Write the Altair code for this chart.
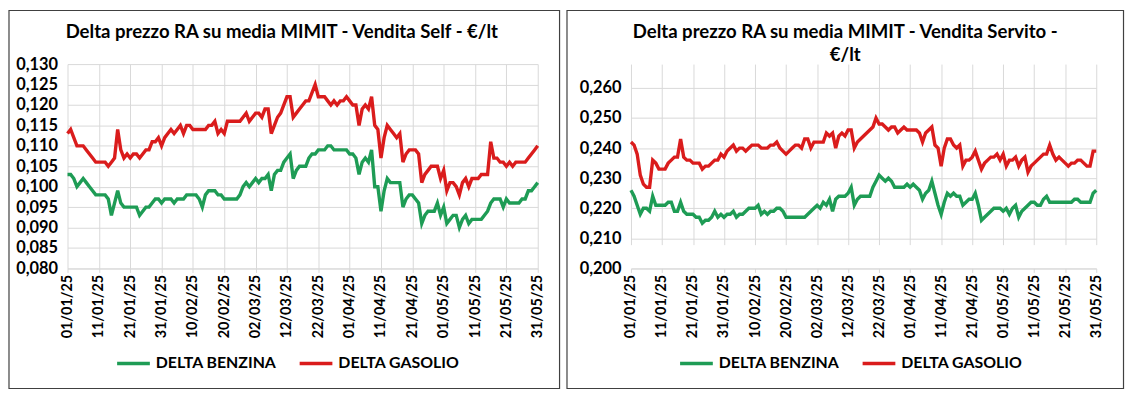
import altair as alt
import pandas as pd

TICK_LABELS = ["01/01/25", "11/01/25", "21/01/25", "31/01/25", "10/02/25", "20/02/25",
               "02/03/25", "12/03/25", "22/03/25", "01/04/25", "11/04/25", "21/04/25",
               "01/05/25", "11/05/25", "21/05/25", "31/05/25"]
TICK_DAYS = [0, 10, 20, 30, 40, 50, 60, 70, 80, 90, 100, 110, 120, 130, 140, 150]

SERIES = ["DELTA BENZINA", "DELTA GASOLIO"]
COLORS = ["#1e9c55", "#da1c1c"]

SELF_TITLE = ["Delta prezzo RA su media MIMIT - Vendita Self - €/lt"]
SERVITO_TITLE = ["Delta prezzo RA su media MIMIT - Vendita Servito -", "€/lt"]

SELF_TICKS = [0.080, 0.085, 0.090, 0.095, 0.100, 0.105, 0.110, 0.115, 0.120, 0.125, 0.130]
SERVITO_TICKS = [0.200, 0.210, 0.220, 0.230, 0.240, 0.250, 0.260]

SELF_BENZINA = [
    .103, .103, .102, .100, .101, .102, .101, .100, .099, .098,
    .098, .098, .098, .097, .093, .096, .099, .096, .095, .095,
    .095, .095, .095, .093, .094, .095, .095, .096, .097, .097,
    .096, .097, .097, .097, .096, .097, .097, .097, .098, .098,
    .098, .098, .097, .095, .098,
    .099, .099, .099, .098, .098, .097, .097, .097, .097, .097,
    .098, .100, .101, .100, .101, .102, .101, .102, .102, .103,
    .099, .103, .104, .104, .106, .107, .108, .102, .104, .105,
    .105, .105, .107, .108, .108, .109, .109, .109, .110, .110,
    .109, .109, .109, .109, .109, .108,
    .108, .107, .103, .106, .107, .106, .109, .100, .100, .094,
    .099, .102, .101, .101, .101, .101, .095, .097, .098, .098,
    .097, .096, .091, .093, .094, .094, .094, .096, .093, .095,
    .091, .092, .093, .093, .090, .092, .093, .091, .092, .092,
    .092, .092, .093, .094, .096, .097, .097, .097, .095, .097,
    .096, .096, .096, .096, .097, .097, .099, .099, .100, .101,
]
SELF_GASOLIO = [
    .113, .114, .112, .110, .110, .110, .109, .108, .107, .106,
    .106, .106, .106, .105, .106, .107, .114, .109, .107, .108,
    .107, .108, .108, .107, .108, .109, .109, .111, .111, .112,
    .110, .112, .113, .114, .113, .114, .115, .113, .115, .115,
    .114, .114, .114, .114, .114,
    .115, .115, .116, .113, .114, .113, .116, .116, .116, .116,
    .116, .117, .118, .116, .117, .118, .118, .117, .119, .119,
    .113, .115, .117, .118, .120, .122, .122, .117, .118, .119,
    .120, .121, .121, .123, .125, .122, .122, .122, .121, .120,
    .121, .120, .121, .121, .122, .121,
    .120, .120, .115, .119, .120, .119, .122, .115, .114, .107,
    .112, .115, .114, .113, .112, .113, .106, .108, .109, .109,
    .109, .108, .101, .103, .104, .105, .105, .105, .102, .104,
    .099, .101, .101, .100, .098, .101, .102, .100, .102, .102,
    .102, .103, .103, .103, .111, .107, .107, .106, .106, .105,
    .106, .105, .106, .106, .106, .106, .107, .108, .109, .110,
]
SERVITO_BENZINA = [
    .226, .224, .221, .218, .220, .220, .219, .224, .221, .221,
    .221, .221, .222, .222, .219, .219, .222, .219, .218, .218,
    .218, .217, .217, .215, .216, .216, .217, .219, .217, .218,
    .217, .218, .218, .219, .217, .218, .218, .219, .220, .220,
    .220, .221, .218, .219, .218,
    .219, .219, .220, .220, .219, .217, .217, .217, .217, .217,
    .217, .217, .218, .219, .220, .221, .220, .222, .221, .223,
    .219, .223, .224, .224, .224, .225, .227, .221, .223, .224,
    .224, .224, .224, .227, .229, .231, .230, .229, .230, .229,
    .227, .227, .227, .227, .228, .227,
    .228, .227, .226, .223, .225, .226, .229, .225, .221, .218,
    .222, .225, .224, .225, .224, .224, .221, .222, .223, .223,
    .225, .221, .216, .217, .218, .219, .220, .220, .220, .219,
    .220, .218, .220, .221, .217, .219, .220, .221, .222, .222,
    .221, .221, .223, .224, .222, .222, .222, .222, .222, .222,
    .222, .222, .223, .223, .222, .222, .222, .222, .225, .226,
]
SERVITO_GASOLIO = [
    .242, .241, .238, .231, .228, .227, .227, .236, .235, .233,
    .233, .233, .235, .236, .237, .237, .243, .237, .236, .236,
    .235, .235, .235, .233, .234, .234, .235, .236, .236, .238,
    .237, .239, .240, .241, .239, .240, .240, .239, .240, .241,
    .241, .241, .240, .240, .240,
    .241, .241, .242, .240, .239, .238, .239, .240, .241, .241,
    .240, .243, .243, .240, .242, .242, .242, .242, .245, .244,
    .245, .240, .244, .245, .244, .246, .246, .240, .242, .243,
    .244, .245, .246, .247, .250, .248, .248, .247, .246, .247,
    .247, .245, .246, .247, .246, .246,
    .246, .246, .245, .242, .245, .246, .247, .241, .240, .234,
    .240, .243, .243, .241, .240, .241, .234, .236, .236, .237,
    .239, .236, .233, .235, .236, .237, .237, .238, .236, .238,
    .234, .236, .236, .237, .234, .236, .237, .232, .234, .235,
    .236, .237, .238, .238, .241, .238, .236, .237, .236, .235,
    .234, .235, .235, .236, .236, .235, .234, .234, .239, .239,
]

FONT = "Lato"
GRID = "#d9d9d9"
PLOT_H = 206


def long_df(benz, gas):
    rows = []
    for i, (b, g) in enumerate(zip(benz, gas)):
        rows.append({"day": i, "serie": SERIES[0], "v": b})
        rows.append({"day": i, "serie": SERIES[1], "v": g})
    return pd.DataFrame(rows)


x_label_expr = "[" + ",".join("'%s'" % t for t in TICK_LABELS) + "][round(datum.value/10)]"
y_label_expr = "replace(format(datum.value, '.3f'), '.', ',')"


def panel(df, ticks, w, y_top, title_lines, frame, legend_xy, title_x):
    x = alt.X("day:Q",
              scale=alt.Scale(domain=[TICK_DAYS[0], TICK_DAYS[-1]], nice=False),
              axis=alt.Axis(values=TICK_DAYS, labelExpr=x_label_expr, labelAngle=270,
                            title=None, grid=True, gridColor=GRID, domainColor=GRID,
                            tickColor=GRID, tickSize=4, labelPadding=2,
                            labelFont=FONT, labelFontWeight="bold", labelFontSize=14.5,
                            labelColor="black"))
    y = alt.Y("v:Q",
              scale=alt.Scale(domain=[ticks[0], ticks[-1]], nice=False, zero=False,
                              range=[PLOT_H, y_top]),
              axis=alt.Axis(values=ticks, labelExpr=y_label_expr, title=None, grid=True,
                            gridColor=GRID, domain=False, ticks=False, labelPadding=10,
                            labelFont=FONT, labelFontWeight="bold", labelFontSize=16.5,
                            labelColor="black"))
    color = alt.Color("serie:N",
                      scale=alt.Scale(domain=SERIES, range=COLORS),
                      legend=alt.Legend(orient="none", legendX=legend_xy[0], legendY=legend_xy[1],
                                        direction="horizontal", title=None, symbolType="stroke",
                                        symbolStrokeWidth=3.5, symbolSize=1089,
                                        labelFont=FONT, labelFontWeight="bold", labelFontSize=16,
                                        labelColor="black", columnPadding=16, labelOffset=4))
    lines = alt.Chart(df).mark_line(strokeWidth=3.4).encode(x=x, y=y, color=color)
    box = alt.Chart(pd.DataFrame({"k": [0]})).mark_rect(
        fill="white", fillOpacity=0, stroke="#404040", strokeWidth=1.2
    ).encode(x=alt.value(frame[0]), x2=alt.value(frame[1]),
             y=alt.value(frame[2]), y2=alt.value(frame[3]))
    layers = [box]
    for i, line in enumerate(title_lines):
        layers.append(
            alt.Chart(pd.DataFrame({"k": [0]})).mark_text(
                text=line, font=FONT, fontSize=18.7, fontWeight="bold", color="black",
                align="center", baseline="middle"
            ).encode(x=alt.value(title_x), y=alt.value(-32 + 23 * i))
        )
    layers.append(lines)
    return alt.layer(*layers).properties(width=w, height=PLOT_H)


left = panel(long_df(SELF_BENZINA, SELF_GASOLIO), SELF_TICKS, 474, 0,
             SELF_TITLE, (-59, 496, -54, 327), (48, 283), 216)
right = panel(long_df(SERVITO_BENZINA, SERVITO_GASOLIO), SERVITO_TICKS, 469, 24,
              SERVITO_TITLE, (-64.5, 496.5, -54, 327), (47.5, 283), 216)

chart = alt.hconcat(left, right, spacing=5).properties(
    padding=0, background="white"
).resolve_scale(color="independent", x="independent", y="independent").resolve_legend(
    color="independent"
).configure_view(strokeWidth=0)

chart.save("out.html", embed_options={"renderer": "svg", "actions": False})
